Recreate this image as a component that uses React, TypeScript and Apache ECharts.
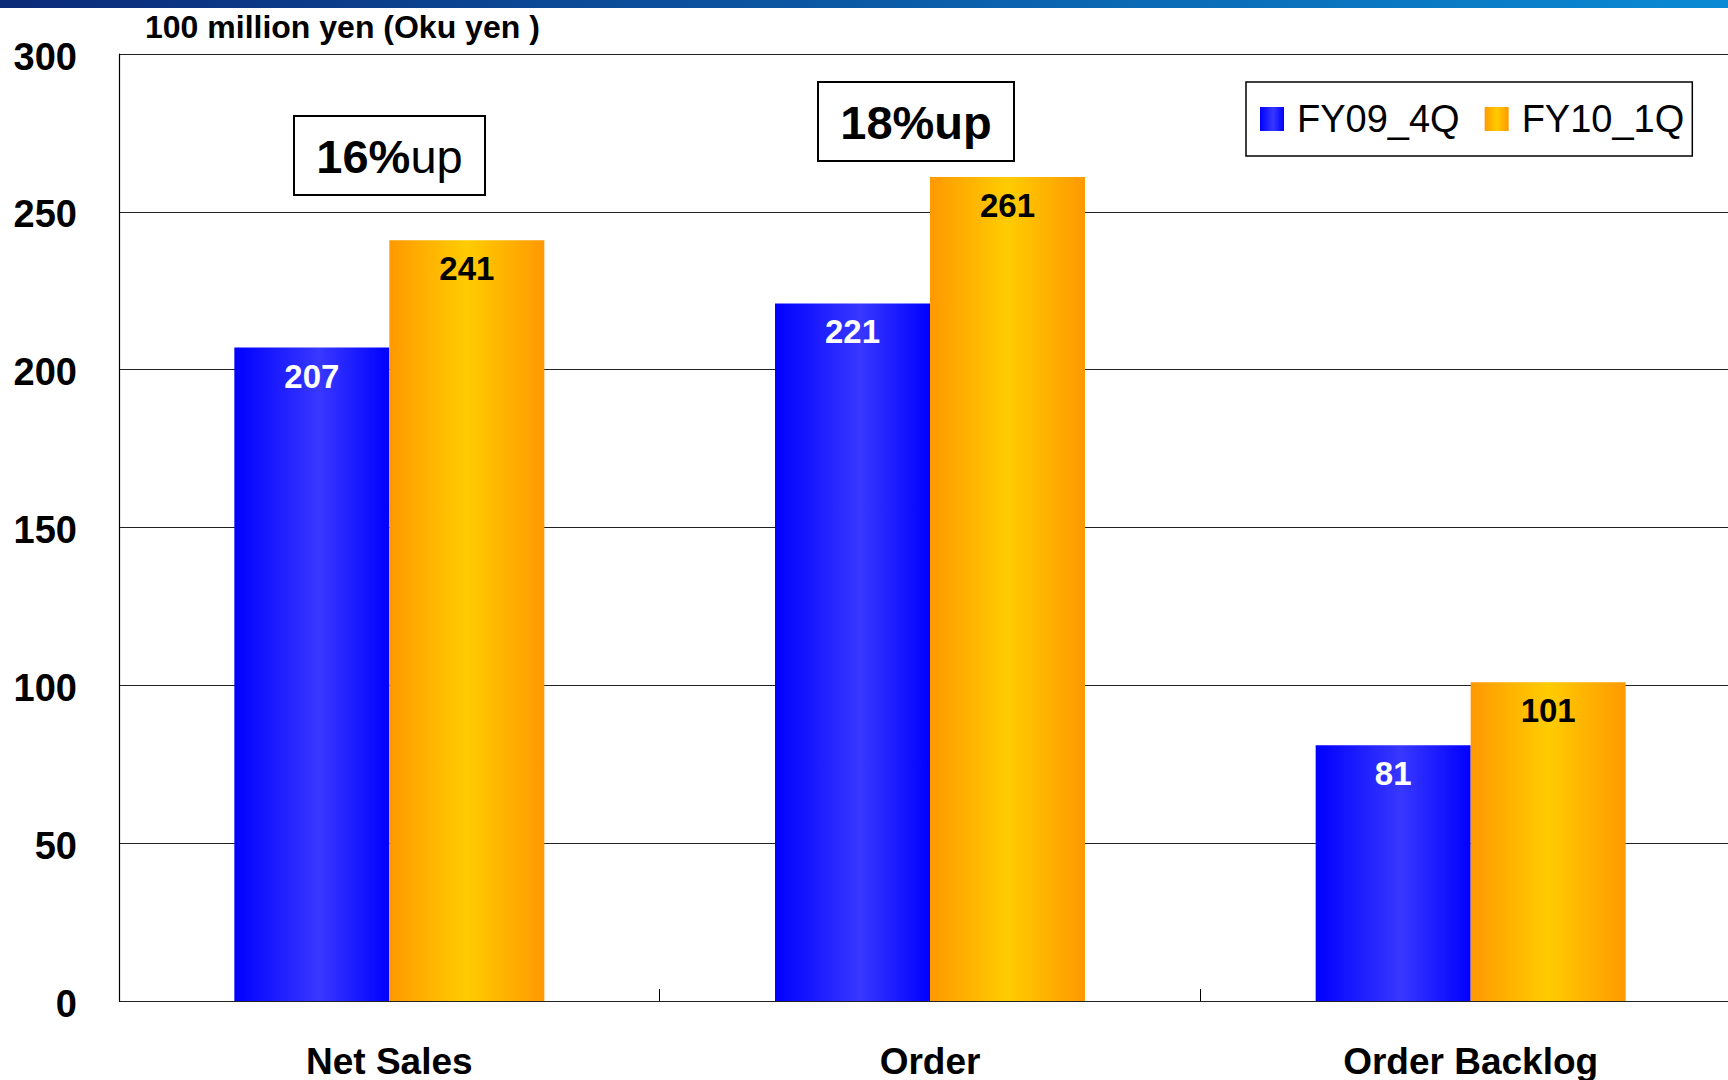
import React, { useEffect, useRef } from "react";
import * as echarts from "echarts";

const categories = ["Net Sales", "Order", "Order Backlog"];
const seriesNames = ["FY09_4Q", "FY10_1Q"];
const fy09q4 = [207, 221, 81];
const fy10q1 = [241, 261, 101];
const growthLabels = [
  { bold: "16%", normal: "up" },
  { bold: "18%up", normal: "" },
];
const unitLabel = "100 million yen (Oku yen )";
const yMin = 0;
const yMax = 300;
const yInterval = 50;

const FONT = "'Liberation Sans', Arial, Helvetica, sans-serif";

export default function App() {
  const ref = useRef<HTMLDivElement>(null);

  useEffect(() => {
    if (!ref.current) return;
    const chart = echarts.init(ref.current, undefined, { renderer: "svg" });

    const blueGrad = new echarts.graphic.LinearGradient(0, 0, 1, 0, [
      { offset: 0, color: "#0000ff" },
      { offset: 0.55, color: "#3838ff" },
      { offset: 1, color: "#0000ff" },
    ]);
    const orangeGrad = new echarts.graphic.LinearGradient(0, 0, 1, 0, [
      { offset: 0, color: "#ff9900" },
      { offset: 0.5, color: "#ffcc00" },
      { offset: 1, color: "#ff9900" },
    ]);

    const boxes = [
      { x: 294, y: 116, w: 191, h: 79, lab: growthLabels[0] },
      { x: 818, y: 82, w: 196, h: 79, lab: growthLabels[1] },
    ];

    chart.setOption({
      animation: false,
      backgroundColor: "#ffffff",
      textStyle: { fontFamily: FONT },
      grid: {
        left: 119,
        top: 54,
        width: 1622,
        height: 947,
        containLabel: false,
        outerBoundsMode: "none",
      },
      legend: {
        left: 1246,
        top: 82,
        orient: "horizontal",
        icon: "rect",
        itemWidth: 24,
        itemHeight: 24,
        itemGap: 25,
        borderColor: "#000",
        borderWidth: 1.5,
        padding: [18, 8, 18, 14],
        backgroundColor: "#fff",
        textStyle: { fontSize: 38, color: "#000", fontFamily: FONT, padding: [0, 0, 0, 8] },
        data: seriesNames,
      },
      xAxis: {
        type: "category",
        data: categories,
        axisLine: {
          lineStyle: { color: "#000", width: 1.5, shadowColor: "#aaa", shadowOffsetY: 2, shadowBlur: 0 },
        },
        axisTick: { show: true, inside: true, length: 12, lineStyle: { color: "#000", width: 1 } },
        axisLabel: {
          fontSize: 37,
          fontWeight: "bold",
          color: "#000",
          margin: 42,
          fontFamily: FONT,
        },
      },
      yAxis: {
        type: "value",
        min: yMin,
        max: yMax,
        interval: yInterval,
        axisLine: { show: true, lineStyle: { color: "#000", width: 1.2 } },
        axisTick: { show: false },
        splitLine: { show: true, lineStyle: { color: "#222", width: 1.2 } },
        axisLabel: {
          fontSize: 38,
          fontWeight: "bold",
          color: "#000",
          margin: 42,
          verticalAlign: "top",
          lineHeight: 5,
          fontFamily: FONT,
        },
      },
      series: [
        {
          name: seriesNames[0],
          type: "bar",
          data: fy09q4,
          barWidth: 155,
          barGap: "0%",
          itemStyle: { color: blueGrad },
          label: {
            show: true,
            position: "insideTop",
            distance: 12,
            color: "#fff",
            fontSize: 33,
            fontWeight: "bold",
            fontFamily: FONT,
          },
        },
        {
          name: seriesNames[1],
          type: "bar",
          data: fy10q1,
          barWidth: 155,
          barGap: "0%",
          itemStyle: { color: orangeGrad },
          label: {
            show: true,
            position: "insideTop",
            distance: 12,
            color: "#000",
            fontSize: 33,
            fontWeight: "bold",
            fontFamily: FONT,
          },
        },
      ],
      graphic: [
        {
          type: "rect",
          left: 0,
          top: 0,
          shape: { x: 0, y: 0, width: 1728, height: 8 },
          style: {
            fill: new echarts.graphic.LinearGradient(0, 0, 1, 0, [
              { offset: 0, color: "#0b2a78" },
              { offset: 0.5, color: "#0b5aa6" },
              { offset: 1, color: "#0a8ad4" },
            ]),
          },
          silent: true,
        },
        {
          type: "text",
          x: 145,
          y: 27,
          style: {
            text: unitLabel,
            font: `bold 32px ${FONT}`,
            fill: "#000",
            verticalAlign: "middle",
            align: "left",
          },
        },
        ...boxes.map((b) => ({
          type: "group",
          children: [
            {
              type: "rect",
              shape: { x: b.x, y: b.y, width: b.w, height: b.h },
              style: { fill: "#fff", stroke: "#000", lineWidth: 2 },
            },
            {
              type: "text",
              x: b.x + b.w / 2,
              y: b.y + b.h / 2 + 1,
              style: {
                text: b.lab.normal ? `{b|${b.lab.bold}}{n|${b.lab.normal}}` : `{b|${b.lab.bold}}`,
                align: "center",
                verticalAlign: "middle",
                rich: {
                  b: { fontSize: 47, fontWeight: "bold", fontFamily: FONT, fill: "#000" },
                  n: { fontSize: 47, fontWeight: "normal", fontFamily: FONT, fill: "#000" },
                },
              },
            },
          ],
        })),
      ],
    });

    return () => chart.dispose();
  }, []);

  return (
    <div
      ref={ref}
      style={{ position: "fixed", left: 0, top: 0, width: 1728, height: 1080 }}
    />
  );
}
